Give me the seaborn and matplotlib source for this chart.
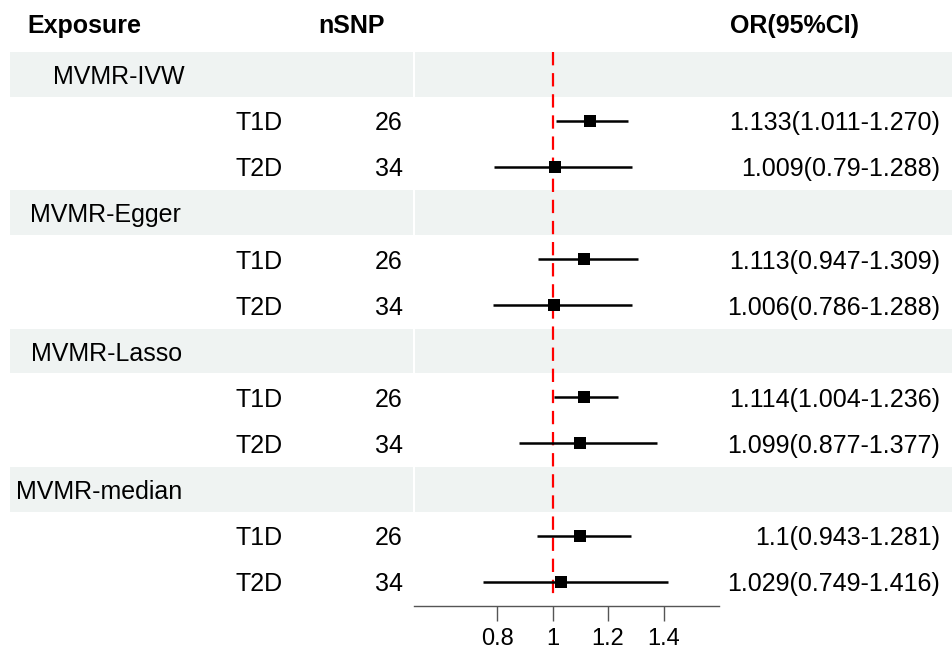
import numpy as np
import pandas as pd
import matplotlib
matplotlib.use("Agg")
import matplotlib.pyplot as plt
import seaborn as sns

# ---------------- data ----------------
methods = ["MVMR-IVW", "MVMR-Egger", "MVMR-Lasso", "MVMR-median"]
exposures = ["T1D", "T2D"]
nsnp = [26, 34, 26, 34, 26, 34, 26, 34]
or_vals = [1.133, 1.009, 1.113, 1.006, 1.114, 1.099, 1.1, 1.029]
ci_low = [1.011, 0.79, 0.947, 0.786, 1.004, 0.877, 0.943, 0.749]
ci_high = [1.270, 1.288, 1.309, 1.288, 1.236, 1.377, 1.281, 1.416]
or_text = ["1.133(1.011-1.270)", "1.009(0.79-1.288)",
           "1.113(0.947-1.309)", "1.006(0.786-1.288)",
           "1.114(1.004-1.236)", "1.099(0.877-1.377)",
           "1.1(0.943-1.281)", "1.029(0.749-1.416)"]
headers = ["Exposure", "nSNP", "OR(95%CI)"]
xticks = [0.8, 1.0, 1.2, 1.4]
xtick_labels = ["0.8", "1", "1.2", "1.4"]

# ---------------- layout ----------------
W, H = 952, 652
ROW0 = 28.4      # pixel y of row index 0 (header)
ROWH = 46.1      # pixel height of a row
group_label_x = [53, 30, 31, 16]
BAND = "#eff3f2"
TXT = "#000000"

def r_of(py):
    return (py - ROW0) / ROWH

sns.set_theme(style="white")
plt.rcParams["font.family"] = ["Liberation Sans", "DejaVu Sans"]

fig = plt.figure(figsize=(W / 100, H / 100), dpi=100)
fig.patch.set_facecolor("white")

# table axis (pixel x, row y)
tab = fig.add_axes([0, 0, 1, 1])
tab.set_xlim(0, W)
tab.set_ylim(r_of(H), r_of(0))
tab.axis("off")

# build row table
rows = []
r = 1
for gi, m in enumerate(methods):
    rows.append(dict(kind="group", row=r, label=m, gi=gi))
    r += 1
    for ei, e in enumerate(exposures):
        k = gi * 2 + ei
        rows.append(dict(kind="item", row=r, label=e, nsnp=nsnp[k],
                         est=or_vals[k], lo=ci_low[k], hi=ci_high[k],
                         txt=or_text[k]))
        r += 1
df = pd.DataFrame(rows)

FS = 18
# header
tab.text(27, r_of(33), headers[0], ha="left", va="baseline",
         fontsize=FS, fontweight="bold", color=TXT)
tab.text(318, r_of(33), headers[1], ha="left", va="baseline",
         fontsize=FS, fontweight="bold", color=TXT)
tab.text(730, r_of(33), headers[2], ha="left", va="baseline",
         fontsize=FS, fontweight="bold", color=TXT)

BASE = 0.21
for _, row in df.iterrows():
    rr = row["row"]
    if row["kind"] == "group":
        tab.axhspan(rr - 0.485, rr + 0.485, xmin=10 / W, xmax=413 / W,
                    color=BAND, lw=0, zorder=0)
        tab.axhspan(rr - 0.485, rr + 0.485, xmin=415 / W, xmax=1.0,
                    color=BAND, lw=0, zorder=0)
        tab.text(group_label_x[int(row["gi"])], rr + BASE, row["label"],
                 ha="left", va="baseline", fontsize=FS, color=TXT)
    else:
        tab.text(283, rr + BASE, row["label"], ha="right", va="baseline",
                 fontsize=FS, color=TXT)
        tab.text(403, rr + BASE, str(int(row["nsnp"])), ha="right",
                 va="baseline", fontsize=FS, color=TXT)
        tab.text(940, rr + BASE, row["txt"], ha="right", va="baseline",
                 fontsize=FS, color=TXT)

# forest axis
ax_top, ax_bot, ax_l, ax_r = 52, 606, 414, 719
ax = fig.add_axes([ax_l / W, (H - ax_bot) / H, (ax_r - ax_l) / W,
                   (ax_bot - ax_top) / H])
ax.set_facecolor("none")

items = df[df["kind"] == "item"].copy()
ax.vlines(1.0, r_of(ax_top), r_of(599), colors="#ff0000", lw=1.6,
          linestyles=(0, (6, 3.5)), zorder=1)
ax.hlines(items["row"], items["lo"], items["hi"], colors="black",
          lw=1.8, zorder=2)
sns.scatterplot(data=items, x="est", y="row", marker="s", s=72,
                color="black", edgecolor="black", linewidth=0,
                ax=ax, zorder=3, legend=False)

ax.set_xlim(0.5, 1.6)
ax.set_ylim(r_of(ax_bot), r_of(ax_top))
ax.set_xlabel("")
ax.set_ylabel("")
ax.set_yticks([])
ax.set_xticks(xticks)
ax.set_xticklabels(xtick_labels)
for s in ["top", "right", "left"]:
    ax.spines[s].set_visible(False)
ax.spines["bottom"].set_color("#555555")
ax.spines["bottom"].set_linewidth(1.0)
ax.tick_params(axis="x", direction="out", length=11, width=1.0,
               color="#555555", pad=5, labelsize=17, labelcolor="black",
               bottom=True)
ax.grid(False)

fig.savefig("out.png", dpi=100, facecolor="white")
